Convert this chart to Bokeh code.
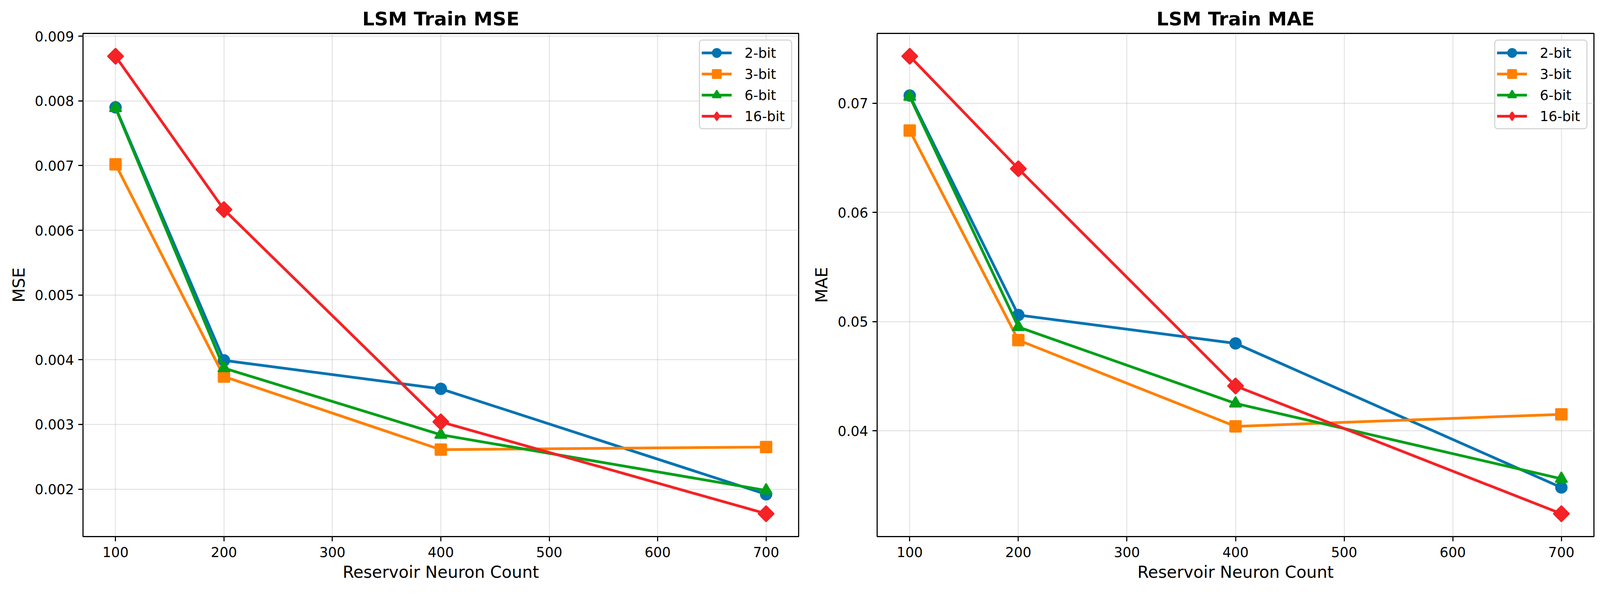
import numpy as np
from bokeh.plotting import figure
from bokeh.models import FixedTicker, PrintfTickFormatter, Range1d
from bokeh.layouts import row
from bokeh.embed import file_html
from bokeh.resources import INLINE

# ---------------- data ----------------
neurons = [100, 200, 400, 700]
series_labels = ["2-bit", "3-bit", "6-bit", "16-bit"]

mse_2bit = [0.00790, 0.00399, 0.00355, 0.00192]
mse_3bit = [0.00702, 0.00374, 0.00261, 0.00265]
mse_6bit = [0.00789, 0.00387, 0.00284, 0.00198]
mse_16bit = [0.00869, 0.00632, 0.00304, 0.00162]

mae_2bit = [0.0707, 0.0506, 0.0480, 0.0348]
mae_3bit = [0.0675, 0.0483, 0.0404, 0.0415]
mae_6bit = [0.0706, 0.0495, 0.0425, 0.0356]
mae_16bit = [0.0743, 0.0640, 0.0441, 0.0324]

x_ticks = [100, 200, 300, 400, 500, 600, 700]
mse_ticks = [0.002, 0.003, 0.004, 0.005, 0.006, 0.007, 0.008, 0.009]
mae_ticks = [0.04, 0.05, 0.06, 0.07]

# ---------------- style ----------------
K = 1 / 1.046  # rendering scale compensation


def px(v):
    return int(round(v * K))


def fs(v):
    return "%.1fpx" % (v * K)


FONT = "DejaVu Sans"
colors = ["#0173B2", "#FF8000", "#00A018", "#F52226"]
markers = ["circle", "square", "triangle", "square"]
legend_markers = ["circle", "square", "triangle", "diamond"]
angles = [0.0, 0.0, 0.0, np.pi / 4]
msizes = [29.5, 29.5, 31.5, 29.5]

SP = 2.95 * K      # spine / tick / grid width
LW = 7.3 * K       # line width
EW = 3.7 * K       # marker edge width


def make_fig(title, ylabel, series, yticks, fmt, width, bl, br):
    ys = [v for s in series for v in s]
    lo, hi = min(ys), max(ys)
    pad = (hi - lo) * 0.05
    xpad = (max(neurons) - min(neurons)) * 0.05
    p = figure(width=px(width), height=px(89 + 1348 + 124), output_backend="svg",
               toolbar_location=None,
               x_range=Range1d(min(neurons) - xpad, max(neurons) + xpad),
               y_range=Range1d(lo - pad, hi + pad),
               min_border_left=px(bl), min_border_right=px(br),
               min_border_top=px(89), min_border_bottom=px(124))
    p.background_fill_color = "white"
    p.border_fill_color = "white"
    p.outline_line_color = "black"
    p.outline_line_width = SP

    p.title.text = title
    p.title.align = "center"
    p.title.text_font = FONT
    p.title.text_font_size = fs(51)
    p.title.text_font_style = "bold"
    p.title.text_color = "black"
    p.title.standoff = px(18)

    p.xaxis.ticker = FixedTicker(ticks=x_ticks)
    p.yaxis.ticker = FixedTicker(ticks=yticks)
    p.yaxis.formatter = PrintfTickFormatter(format=fmt)
    p.xaxis.axis_label = "Reservoir Neuron Count"
    p.yaxis.axis_label = ylabel
    for ax in (p.xaxis, p.yaxis):
        ax.axis_line_color = None
        ax.major_tick_line_width = SP
        ax.major_tick_line_color = "black"
        ax.major_tick_out = px(13)
        ax.major_tick_in = 0
        ax.minor_tick_line_color = None
        ax.major_label_text_font = FONT
        ax.major_label_text_font_size = fs(36.7)
        ax.major_label_text_color = "black"
        ax.axis_label_text_font = FONT
        ax.axis_label_text_font_size = fs(44)
        ax.axis_label_text_font_style = "normal"
        ax.axis_label_text_color = "black"
    p.xaxis.major_label_standoff = px(15)
    p.xaxis.axis_label_standoff = px(11)
    p.yaxis.major_label_standoff = px(12)
    p.yaxis.axis_label_standoff = px(14)

    for g in (p.xgrid, p.ygrid):
        g.grid_line_color = "#b0b0b0"
        g.grid_line_alpha = 0.3
        g.grid_line_width = SP
    p.xgrid.ticker = FixedTicker(ticks=x_ticks)
    p.ygrid.ticker = FixedTicker(ticks=yticks)

    for s, lab, c, m, lm, a, ms in zip(series, series_labels, colors, markers,
                                       legend_markers, angles, msizes):
        p.line(neurons, s, line_color=c, line_width=LW, line_join="round",
               legend_label=lab)
        if lm == m and a == 0.0:
            p.scatter(neurons, s, marker=m, size=ms * K, fill_color=c,
                      line_color=c, line_width=EW, legend_label=lab)
        else:
            # smaller diamond underneath: fully covered in the plot,
            # it gives the legend its diamond swatch
            p.scatter(neurons, s, marker=lm, size=30 * K, fill_color=c,
                      line_color=c, line_width=EW, legend_label=lab)
            p.scatter(neurons, s, marker=m, angle=a, size=ms * K, fill_color=c,
                      line_color=c, line_width=EW)

    lg = p.legend[0]
    lg.location = "top_right"
    lg.margin = px(17)
    lg.padding = px(4)
    lg.spacing = 0
    lg.glyph_width = px(81)
    lg.glyph_height = px(57)
    lg.label_standoff = px(34)
    lg.label_width = px(120)
    lg.label_text_font = FONT
    lg.label_text_font_size = fs(36.7)
    lg.label_text_color = "black"
    lg.background_fill_color = "white"
    lg.background_fill_alpha = 0.8
    lg.border_line_color = "#cccccc"
    lg.border_line_alpha = 0.8
    lg.border_line_width = EW
    if "border_radius" in lg.properties():
        lg.border_radius = px(9)
    return p


p1 = make_fig("LSM Train MSE", "MSE", [mse_2bit, mse_3bit, mse_6bit, mse_16bit],
              mse_ticks, "%.3f", width=2160, bl=222, br=22)
p2 = make_fig("LSM Train MAE", "MAE", [mae_2bit, mae_3bit, mae_6bit, mae_16bit],
              mae_ticks, "%.2f", width=2124, bl=188, br=17)

layout = row(p1, p2)
open("out.html", "w").write(file_html(layout, INLINE))
